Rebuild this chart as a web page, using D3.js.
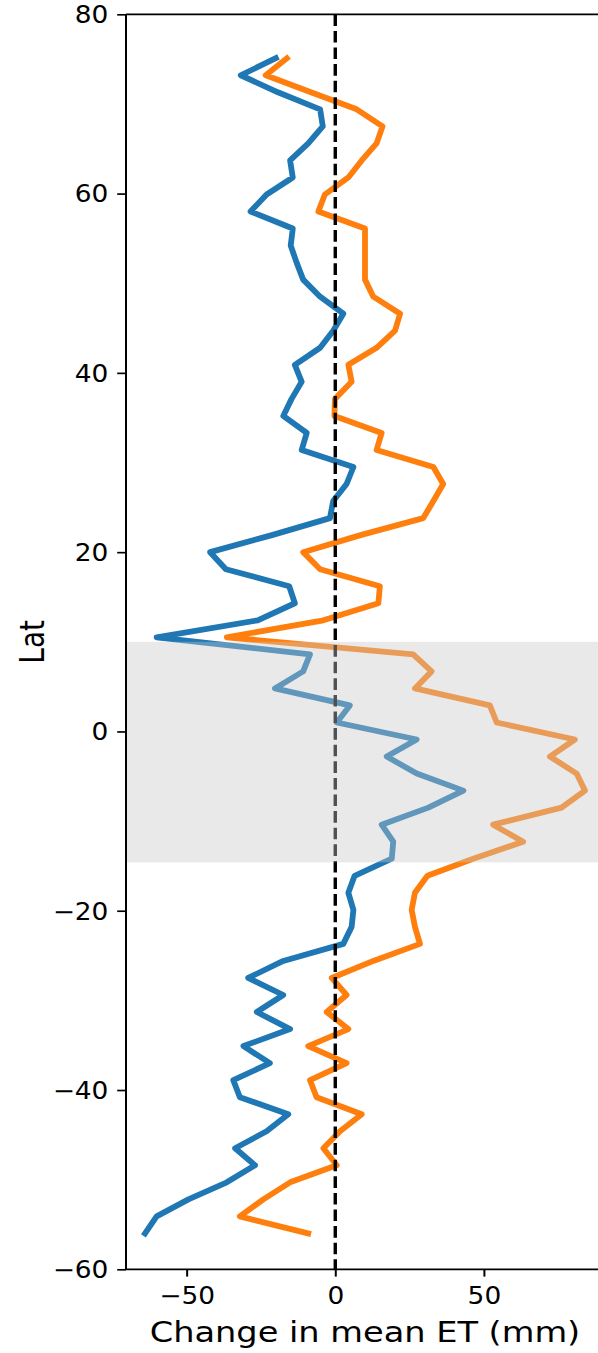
<!DOCTYPE html>
<html>
<head>
<meta charset="utf-8">
<script src="https://cdn.jsdelivr.net/npm/d3@7"></script>
<style>
  body { margin: 0; background: #fff; }
  svg { display: block; font-family: "DejaVu Sans", sans-serif; }
</style>
</head>
<body>
<div id="chart"></div>
<script>
// latitude of each sample (deg)
var lat = [75.1, 73.2, 71.3, 69.4, 67.5, 65.6, 63.7, 61.8, 59.9, 58.0,
           56.1, 54.2, 52.3, 50.4, 48.5, 46.6, 44.7, 42.8, 40.9, 39.0,
           37.1, 35.2, 33.3, 31.4, 29.5, 27.6, 25.7, 23.8, 21.9, 20.0,
           18.1, 16.2, 14.3, 12.4, 10.5, 8.6, 6.7, 4.8, 2.9, 1.0,
           -0.9, -2.8, -4.7, -6.6, -8.5, -10.4, -12.3, -14.2, -16.1, -18.0,
           -19.9, -21.8, -23.7, -25.6, -27.5, -29.4, -31.3, -33.2, -35.1, -37.0,
           -38.9, -40.8, -42.7, -44.6, -46.5, -48.4, -50.3, -52.2, -54.1, -56.0];

// change in mean ET (mm), blue series
var etBlue = [-20.0, -31.8, -19.3, -5.1, -4.2, -9.1, -15.2, -14.3, -23.1, -28.5,
              -14.3, -15.0, -13.0, -10.8, -5.1, 2.7, -0.7, -5.1, -13.6, -11.3,
              -14.7, -17.5, -9.6, -11.3, 6.1, 3.8, -0.7, -1.8, -21.3, -42.1,
              -36.8, -15.5, -13.6, -26.1, -60.1, -8.5, -10.8, -20.3, 4.9, 0.5,
              27.4, 17.3, 27.4, 43.1, 31.3, 15.6, 19.5, 19.0, 6.5, 4.4,
              6.1, 5.5, 2.7, -17.5, -29.3, -17.5, -26.4, -15.2, -30.9, -22.0,
              -34.3, -32.1, -15.8, -23.1, -33.7, -27.0, -36.5, -49.4, -60.1, -64.0];

// change in mean ET (mm), orange series
var etOrange = [-16.3, -23.4, -8.2, 7.2, 15.9, 13.9, 8.9, 4.4, -3.5, -5.7,
                10.0, 10.0, 10.0, 10.0, 12.8, 21.8, 20.1, 13.9, 4.4, 5.5,
                -0.1, -0.3, 15.6, 13.9, 33.0, 36.3, 33.0, 29.6, 8.5, -10.8,
                -5.1, 15.0, 14.5, -4.0, -36.5, 26.2, 32.4, 26.8, 52.0, 54.3,
                80.6, 72.2, 81.2, 84.0, 76.1, 53.1, 63.2, 46.4, 31.0, 26.8,
                25.7, 26.8, 28.5, 12.8, -1.2, 3.8, -2.9, 4.4, -9.1, 3.8,
                -8.5, -6.3, 8.9, 1.6, -4.0, 0.5, -15.2, -24.2, -32.1, -9.1];

// shaded latitude band
var band = [10, -14.6];

var yTicks = [80, 60, 40, 20, 0, -20, -40, -60];
var xTicks = [-50, 0, 50];

var width = 598, height = 1353;
var margin = {left: 126, top: 14.3, right: -6, bottom: 83.7};
var sx = 1.1;   // the picture is a bit wider than tall, text is stretched

var svg = d3.select("#chart").append("svg")
    .attr("width", width)
    .attr("height", height);

var x = d3.scaleLinear()
    .domain([-70.4, 90.4])
    .range([margin.left, width - margin.right]);

var y = d3.scaleLinear()
    .domain([-60, 80])
    .range([height - margin.bottom, margin.top]);

var plot = svg.append("g");

var line = d3.line()
    .x(function(d) { return x(d[0]); })
    .y(function(d) { return y(d[1]); });

plot.append("path")
    .datum(d3.zip(etBlue, lat))
    .attr("d", line)
    .style("fill", "none")
    .style("stroke", "#1f77b4")
    .style("stroke-width", 5.8)
    .style("stroke-linejoin", "round")
    .style("stroke-linecap", "square");

plot.append("path")
    .datum(d3.zip(etOrange, lat))
    .attr("d", line)
    .style("fill", "none")
    .style("stroke", "#ff7f0e")
    .style("stroke-width", 5.8)
    .style("stroke-linejoin", "round")
    .style("stroke-linecap", "square");

// zero line
plot.append("line")
    .attr("x1", x(0))
    .attr("x2", x(0))
    .attr("y1", y(80))
    .attr("y2", y(-60))
    .style("stroke", "black")
    .style("stroke-width", 3.4)
    .style("stroke-dasharray", "11.6,5");

// band goes on top of everything
plot.append("rect")
    .attr("x", x(-70.4))
    .attr("y", y(band[0]))
    .attr("width", x(90.4) - x(-70.4))
    .attr("height", y(band[1]) - y(band[0]))
    .style("fill", "#c8c8c8")
    .style("fill-opacity", 0.4);

// axes
var yAxis = d3.axisLeft(y)
    .tickValues(yTicks)
    .tickSize(8.8)
    .tickPadding(8.8)
    .tickFormat(d3.format("d"));

var xAxis = d3.axisBottom(x)
    .tickValues(xTicks)
    .tickSize(7.3)
    .tickPadding(7.3)
    .tickFormat(d3.format("d"));

var gy = svg.append("g")
    .attr("transform", "translate(" + margin.left + ",0)")
    .call(yAxis);

var gx = svg.append("g")
    .attr("transform", "translate(0," + (height - margin.bottom) + ")")
    .call(xAxis);

gy.selectAll(".tick line").style("stroke-width", 1.67);
gx.selectAll(".tick line").style("stroke-width", 2);

[gx, gy].forEach(function(g) {
    g.select(".domain").remove();
    g.selectAll(".tick line").style("stroke", "#000");
    g.selectAll(".tick text")
        .style("font-size", "24px")
        .style("fill", "#000")
        .style("font-family", "DejaVu Sans");
});
gy.selectAll(".tick text")
    .attr("dy", "0.35em")
    .attr("x", -17.6 / sx)
    .attr("transform", "scale(" + sx + ",1)");
gx.selectAll(".tick text")
    .attr("dy", "0.82em")
    .attr("transform", "scale(" + sx + ",1)");

// spines: left, bottom, top
svg.append("line")
    .attr("x1", margin.left).attr("x2", margin.left)
    .attr("y1", margin.top).attr("y2", height - margin.bottom)
    .style("stroke", "#000").style("stroke-width", 2);
svg.append("line")
    .attr("x1", margin.left).attr("x2", width)
    .attr("y1", height - margin.bottom).attr("y2", height - margin.bottom)
    .style("stroke", "#000").style("stroke-width", 1.67);
svg.append("line")
    .attr("x1", margin.left).attr("x2", width)
    .attr("y1", margin.top).attr("y2", margin.top)
    .style("stroke", "#000").style("stroke-width", 1.67);

svg.append("text")
    .attr("transform", "translate(" + ((margin.left + width - margin.right) / 2) + ",1342) scale(1.2,1)")
    .attr("text-anchor", "middle")
    .text("Change in mean ET (mm)")
    .style("font-size", "28px")
    .style("fill", "#000");

svg.append("text")
    .attr("transform", "translate(44," + ((margin.top + height - margin.bottom) / 2) + ") scale(1.2,1) rotate(-90)")
    .attr("text-anchor", "middle")
    .text("Lat")
    .style("font-size", "28px")
    .style("fill", "#000");
</script>
</body>
</html>
